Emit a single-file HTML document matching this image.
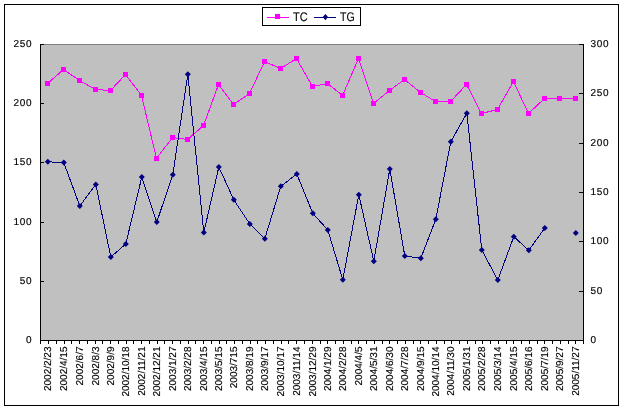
<!DOCTYPE html>
<html><head><meta charset="utf-8"><title>TC / TG chart</title>
<style>
html,body{margin:0;padding:0;background:#fff;}
svg{display:block;will-change:transform;}
text{font-family:"Liberation Sans", sans-serif;fill:#000;text-rendering:geometricPrecision;}
.ax{font-size:10px;stroke:#000;stroke-width:0.15px;}
.h{letter-spacing:0.7px;}
.lg{font-size:12.5px;stroke:#000;stroke-width:0.12px;}
</style></head><body>
<svg width="624" height="411" viewBox="0 0 624 411">
<rect x="0" y="0" width="624" height="411" fill="#fff"/>
<rect x="4.5" y="4.5" width="614" height="401" fill="#fff" stroke="#000" stroke-width="1" shape-rendering="crispEdges"/>
<rect x="41" y="45" width="542" height="295" fill="#c0c0c0" shape-rendering="crispEdges"/>
<rect x="41" y="44" width="542" height="1" fill="#808080" shape-rendering="crispEdges"/>
<g fill="#000" shape-rendering="crispEdges">
<rect x="40" y="44" width="1" height="297"/>
<rect x="583" y="44" width="1" height="297"/>
<rect x="40" y="340" width="544" height="1"/>
<rect x="40" y="340" width="4" height="1"/>
<rect x="40" y="281" width="4" height="1"/>
<rect x="40" y="222" width="4" height="1"/>
<rect x="40" y="162" width="4" height="1"/>
<rect x="40" y="103" width="4" height="1"/>
<rect x="40" y="44" width="4" height="1"/>
<rect x="579" y="340" width="5" height="1"/>
<rect x="579" y="291" width="5" height="1"/>
<rect x="579" y="241" width="5" height="1"/>
<rect x="579" y="192" width="5" height="1"/>
<rect x="579" y="143" width="5" height="1"/>
<rect x="579" y="93" width="5" height="1"/>
<rect x="579" y="44" width="5" height="1"/>
<rect x="40" y="340" width="1" height="4"/>
<rect x="48" y="340" width="1" height="4"/>
<rect x="56" y="340" width="1" height="4"/>
<rect x="64" y="340" width="1" height="4"/>
<rect x="71" y="340" width="1" height="4"/>
<rect x="79" y="340" width="1" height="4"/>
<rect x="87" y="340" width="1" height="4"/>
<rect x="95" y="340" width="1" height="4"/>
<rect x="102" y="340" width="1" height="4"/>
<rect x="110" y="340" width="1" height="4"/>
<rect x="118" y="340" width="1" height="4"/>
<rect x="126" y="340" width="1" height="4"/>
<rect x="133" y="340" width="1" height="4"/>
<rect x="141" y="340" width="1" height="4"/>
<rect x="149" y="340" width="1" height="4"/>
<rect x="157" y="340" width="1" height="4"/>
<rect x="164" y="340" width="1" height="4"/>
<rect x="172" y="340" width="1" height="4"/>
<rect x="180" y="340" width="1" height="4"/>
<rect x="188" y="340" width="1" height="4"/>
<rect x="195" y="340" width="1" height="4"/>
<rect x="203" y="340" width="1" height="4"/>
<rect x="211" y="340" width="1" height="4"/>
<rect x="219" y="340" width="1" height="4"/>
<rect x="226" y="340" width="1" height="4"/>
<rect x="234" y="340" width="1" height="4"/>
<rect x="242" y="340" width="1" height="4"/>
<rect x="250" y="340" width="1" height="4"/>
<rect x="257" y="340" width="1" height="4"/>
<rect x="265" y="340" width="1" height="4"/>
<rect x="273" y="340" width="1" height="4"/>
<rect x="281" y="340" width="1" height="4"/>
<rect x="288" y="340" width="1" height="4"/>
<rect x="296" y="340" width="1" height="4"/>
<rect x="304" y="340" width="1" height="4"/>
<rect x="312" y="340" width="1" height="4"/>
<rect x="320" y="340" width="1" height="4"/>
<rect x="327" y="340" width="1" height="4"/>
<rect x="335" y="340" width="1" height="4"/>
<rect x="343" y="340" width="1" height="4"/>
<rect x="351" y="340" width="1" height="4"/>
<rect x="358" y="340" width="1" height="4"/>
<rect x="366" y="340" width="1" height="4"/>
<rect x="374" y="340" width="1" height="4"/>
<rect x="382" y="340" width="1" height="4"/>
<rect x="389" y="340" width="1" height="4"/>
<rect x="397" y="340" width="1" height="4"/>
<rect x="405" y="340" width="1" height="4"/>
<rect x="413" y="340" width="1" height="4"/>
<rect x="420" y="340" width="1" height="4"/>
<rect x="428" y="340" width="1" height="4"/>
<rect x="436" y="340" width="1" height="4"/>
<rect x="444" y="340" width="1" height="4"/>
<rect x="451" y="340" width="1" height="4"/>
<rect x="459" y="340" width="1" height="4"/>
<rect x="467" y="340" width="1" height="4"/>
<rect x="475" y="340" width="1" height="4"/>
<rect x="482" y="340" width="1" height="4"/>
<rect x="490" y="340" width="1" height="4"/>
<rect x="498" y="340" width="1" height="4"/>
<rect x="506" y="340" width="1" height="4"/>
<rect x="513" y="340" width="1" height="4"/>
<rect x="521" y="340" width="1" height="4"/>
<rect x="529" y="340" width="1" height="4"/>
<rect x="537" y="340" width="1" height="4"/>
<rect x="544" y="340" width="1" height="4"/>
<rect x="552" y="340" width="1" height="4"/>
<rect x="560" y="340" width="1" height="4"/>
<rect x="568" y="340" width="1" height="4"/>
<rect x="575" y="340" width="1" height="4"/>
<rect x="583" y="340" width="1" height="4"/>
</g>
<polyline stroke="#ff00ff" stroke-width="1" fill="none" shape-rendering="crispEdges" points="47.5,83.5 63.5,69.5 79.5,80.5 95.5,89.5 110.5,90.5 125.5,74.5 141.5,95.5 156.5,158.5 172.5,137.5 187.5,139.5 203.5,125.5 218.5,84.5 233.5,104.5 249.5,93.5 264.5,61.5 280.5,68.5 296.5,58.5 312.5,86.5 327.5,83.5 342.5,95.5 358.5,58.5 373.5,103.5 389.5,90.5 404.5,79.5 420.5,92.5 435.5,101.5 450.5,101.5 466.5,84.5 481.5,113.5 497.5,109.5 513.5,81.5 528.5,113.5 544.5,98.5 559.5,98.5 575.5,98.5"/>
<g fill="#ff00ff" shape-rendering="crispEdges">
<rect x="45" y="81" width="5" height="5"/>
<rect x="61" y="67" width="5" height="5"/>
<rect x="77" y="78" width="5" height="5"/>
<rect x="93" y="87" width="5" height="5"/>
<rect x="108" y="88" width="5" height="5"/>
<rect x="123" y="72" width="5" height="5"/>
<rect x="139" y="93" width="5" height="5"/>
<rect x="154" y="156" width="5" height="5"/>
<rect x="170" y="135" width="5" height="5"/>
<rect x="185" y="137" width="5" height="5"/>
<rect x="201" y="123" width="5" height="5"/>
<rect x="216" y="82" width="5" height="5"/>
<rect x="231" y="102" width="5" height="5"/>
<rect x="247" y="91" width="5" height="5"/>
<rect x="262" y="59" width="5" height="5"/>
<rect x="278" y="66" width="5" height="5"/>
<rect x="294" y="56" width="5" height="5"/>
<rect x="310" y="84" width="5" height="5"/>
<rect x="325" y="81" width="5" height="5"/>
<rect x="340" y="93" width="5" height="5"/>
<rect x="356" y="56" width="5" height="5"/>
<rect x="371" y="101" width="5" height="5"/>
<rect x="387" y="88" width="5" height="5"/>
<rect x="402" y="77" width="5" height="5"/>
<rect x="418" y="90" width="5" height="5"/>
<rect x="433" y="99" width="5" height="5"/>
<rect x="448" y="99" width="5" height="5"/>
<rect x="464" y="82" width="5" height="5"/>
<rect x="479" y="111" width="5" height="5"/>
<rect x="495" y="107" width="5" height="5"/>
<rect x="511" y="79" width="5" height="5"/>
<rect x="526" y="111" width="5" height="5"/>
<rect x="542" y="96" width="5" height="5"/>
<rect x="557" y="96" width="5" height="5"/>
<rect x="573" y="96" width="5" height="5"/>
</g>
<g stroke="#000080" stroke-width="1" fill="none" shape-rendering="crispEdges">
<polyline points="47.8,161.8 63.8,162.6 79.8,206.0 95.8,184.5 110.8,257.0 125.8,244.0 141.8,177.0 156.8,222.0 172.8,174.7 187.8,74.3 203.8,232.5 218.8,167.0 233.8,199.8 249.8,224.0 264.8,238.7 280.8,186.3 296.8,174.0 312.8,213.3 327.8,230.0 342.8,279.7 358.8,194.7 373.8,261.2 389.8,169.0 404.8,256.0 420.8,258.3 435.8,219.3 450.8,141.7 466.8,113.2 481.8,250.0 497.8,280.0 513.8,236.7 528.8,250.3 544.8,228.0"/>
</g>
<g fill="#000080">
<polygon points="44.8,161.8 47.8,158.8 50.8,161.8 47.8,164.8"/>
<polygon points="60.8,162.6 63.8,159.6 66.8,162.6 63.8,165.6"/>
<polygon points="76.8,206.0 79.8,203.0 82.8,206.0 79.8,209.0"/>
<polygon points="92.8,184.5 95.8,181.5 98.8,184.5 95.8,187.5"/>
<polygon points="107.8,257.0 110.8,254.0 113.8,257.0 110.8,260.0"/>
<polygon points="122.8,244.0 125.8,241.0 128.8,244.0 125.8,247.0"/>
<polygon points="138.8,177.0 141.8,174.0 144.8,177.0 141.8,180.0"/>
<polygon points="153.8,222.0 156.8,219.0 159.8,222.0 156.8,225.0"/>
<polygon points="169.8,174.7 172.8,171.7 175.8,174.7 172.8,177.7"/>
<polygon points="184.8,74.3 187.8,71.3 190.8,74.3 187.8,77.3"/>
<polygon points="200.8,232.5 203.8,229.5 206.8,232.5 203.8,235.5"/>
<polygon points="215.8,167.0 218.8,164.0 221.8,167.0 218.8,170.0"/>
<polygon points="230.8,199.8 233.8,196.8 236.8,199.8 233.8,202.8"/>
<polygon points="246.8,224.0 249.8,221.0 252.8,224.0 249.8,227.0"/>
<polygon points="261.8,238.7 264.8,235.7 267.8,238.7 264.8,241.7"/>
<polygon points="277.8,186.3 280.8,183.3 283.8,186.3 280.8,189.3"/>
<polygon points="293.8,174.0 296.8,171.0 299.8,174.0 296.8,177.0"/>
<polygon points="309.8,213.3 312.8,210.3 315.8,213.3 312.8,216.3"/>
<polygon points="324.8,230.0 327.8,227.0 330.8,230.0 327.8,233.0"/>
<polygon points="339.8,279.7 342.8,276.7 345.8,279.7 342.8,282.7"/>
<polygon points="355.8,194.7 358.8,191.7 361.8,194.7 358.8,197.7"/>
<polygon points="370.8,261.2 373.8,258.2 376.8,261.2 373.8,264.2"/>
<polygon points="386.8,169.0 389.8,166.0 392.8,169.0 389.8,172.0"/>
<polygon points="401.8,256.0 404.8,253.0 407.8,256.0 404.8,259.0"/>
<polygon points="417.8,258.3 420.8,255.3 423.8,258.3 420.8,261.3"/>
<polygon points="432.8,219.3 435.8,216.3 438.8,219.3 435.8,222.3"/>
<polygon points="447.8,141.7 450.8,138.7 453.8,141.7 450.8,144.7"/>
<polygon points="463.8,113.2 466.8,110.2 469.8,113.2 466.8,116.2"/>
<polygon points="478.8,250.0 481.8,247.0 484.8,250.0 481.8,253.0"/>
<polygon points="494.8,280.0 497.8,277.0 500.8,280.0 497.8,283.0"/>
<polygon points="510.8,236.7 513.8,233.7 516.8,236.7 513.8,239.7"/>
<polygon points="525.8,250.3 528.8,247.3 531.8,250.3 528.8,253.3"/>
<polygon points="541.8,228.0 544.8,225.0 547.8,228.0 544.8,231.0"/>
<polygon points="572.8,233.0 575.8,230.0 578.8,233.0 575.8,236.0"/>
</g>
<rect x="262.5" y="7.5" width="98" height="18" fill="#fff" stroke="#000" stroke-width="1" shape-rendering="crispEdges"/>
<rect x="267" y="17" width="22" height="1" fill="#ff00ff" shape-rendering="crispEdges"/>
<rect x="275" y="14" width="5" height="5" fill="#ff00ff" shape-rendering="crispEdges"/>
<text class="lg" x="293" y="21" textLength="14.7" lengthAdjust="spacingAndGlyphs">TC</text>
<rect x="314" y="17" width="22" height="1" fill="#000080" shape-rendering="crispEdges"/>
<polygon fill="#000080" points="322.7,17.1 325.4,13.9 328.1,17.1 325.4,20.3"/>
<text class="lg" x="340" y="21" textLength="14.7" lengthAdjust="spacingAndGlyphs">TG</text>
<text class="ax h" x="32.3" y="343" text-anchor="end">0</text>
<text class="ax h" x="32.3" y="284" text-anchor="end">50</text>
<text class="ax h" x="32.3" y="225" text-anchor="end">100</text>
<text class="ax h" x="32.3" y="165" text-anchor="end">150</text>
<text class="ax h" x="32.3" y="106" text-anchor="end">200</text>
<text class="ax h" x="32.3" y="47" text-anchor="end">250</text>
<text class="ax h" x="590.6" y="343">0</text>
<text class="ax h" x="590.6" y="294">50</text>
<text class="ax h" x="590.6" y="244">100</text>
<text class="ax h" x="590.6" y="195">150</text>
<text class="ax h" x="590.6" y="146">200</text>
<text class="ax h" x="590.6" y="96">250</text>
<text class="ax h" x="590.6" y="47">300</text>
<text class="ax" text-anchor="end" transform="translate(51.1,346.5) rotate(-90)">2002/2/23</text>
<text class="ax" text-anchor="end" transform="translate(67.1,346.5) rotate(-90)">2002/4/15</text>
<text class="ax" text-anchor="end" transform="translate(83.1,346.5) rotate(-90)">2002/6/7</text>
<text class="ax" text-anchor="end" transform="translate(99.1,346.5) rotate(-90)">2002/8/3</text>
<text class="ax" text-anchor="end" transform="translate(114.1,346.5) rotate(-90)">2002/9/9</text>
<text class="ax" text-anchor="end" transform="translate(129.1,346.5) rotate(-90)">2002/10/18</text>
<text class="ax" text-anchor="end" transform="translate(145.1,346.5) rotate(-90)">2002/11/21</text>
<text class="ax" text-anchor="end" transform="translate(160.1,346.5) rotate(-90)">2002/12/21</text>
<text class="ax" text-anchor="end" transform="translate(176.1,346.5) rotate(-90)">2003/1/27</text>
<text class="ax" text-anchor="end" transform="translate(191.1,346.5) rotate(-90)">2003/2/28</text>
<text class="ax" text-anchor="end" transform="translate(207.1,346.5) rotate(-90)">2003/4/15</text>
<text class="ax" text-anchor="end" transform="translate(222.1,346.5) rotate(-90)">2003/5/15</text>
<text class="ax" text-anchor="end" transform="translate(237.1,346.5) rotate(-90)">2003/715</text>
<text class="ax" text-anchor="end" transform="translate(253.1,346.5) rotate(-90)">2003/8/19</text>
<text class="ax" text-anchor="end" transform="translate(268.1,346.5) rotate(-90)">2003/9/17</text>
<text class="ax" text-anchor="end" transform="translate(284.1,346.5) rotate(-90)">2003/10/17</text>
<text class="ax" text-anchor="end" transform="translate(300.1,346.5) rotate(-90)">2003/11/14</text>
<text class="ax" text-anchor="end" transform="translate(316.1,346.5) rotate(-90)">2003/12/29</text>
<text class="ax" text-anchor="end" transform="translate(331.1,346.5) rotate(-90)">2004/1/29</text>
<text class="ax" text-anchor="end" transform="translate(346.1,346.5) rotate(-90)">2004/2/28</text>
<text class="ax" text-anchor="end" transform="translate(362.1,346.5) rotate(-90)">2004/4/5</text>
<text class="ax" text-anchor="end" transform="translate(377.1,346.5) rotate(-90)">2004/5/31</text>
<text class="ax" text-anchor="end" transform="translate(393.1,346.5) rotate(-90)">2004/6/30</text>
<text class="ax" text-anchor="end" transform="translate(408.1,346.5) rotate(-90)">2004/7/28</text>
<text class="ax" text-anchor="end" transform="translate(424.1,346.5) rotate(-90)">2004/9/15</text>
<text class="ax" text-anchor="end" transform="translate(439.1,346.5) rotate(-90)">2004/10/14</text>
<text class="ax" text-anchor="end" transform="translate(454.1,346.5) rotate(-90)">2004/11/30</text>
<text class="ax" text-anchor="end" transform="translate(470.1,346.5) rotate(-90)">2005/1/31</text>
<text class="ax" text-anchor="end" transform="translate(485.1,346.5) rotate(-90)">2005/2/28</text>
<text class="ax" text-anchor="end" transform="translate(501.1,346.5) rotate(-90)">2005/3/14</text>
<text class="ax" text-anchor="end" transform="translate(517.1,346.5) rotate(-90)">2005/4/15</text>
<text class="ax" text-anchor="end" transform="translate(532.1,346.5) rotate(-90)">2005/6/16</text>
<text class="ax" text-anchor="end" transform="translate(548.1,346.5) rotate(-90)">2005/7/19</text>
<text class="ax" text-anchor="end" transform="translate(563.1,346.5) rotate(-90)">2005/9/27</text>
<text class="ax" text-anchor="end" transform="translate(579.1,346.5) rotate(-90)">2005/11/27</text>
</svg>
</body></html>
